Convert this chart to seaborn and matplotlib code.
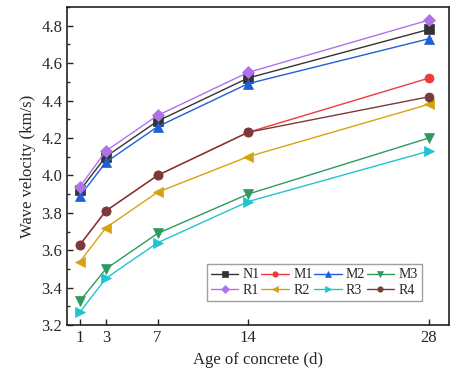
import matplotlib
matplotlib.use("Agg")
import matplotlib.pyplot as plt
import seaborn as sns
import pandas as pd
from matplotlib.ticker import MultipleLocator

days = [1, 3, 7, 14, 28]
series_names = ["N1", "M1", "M2", "M3", "R1", "R2", "R3", "R4"]
N1 = [3.92, 4.10, 4.29, 4.52, 4.78]
M1 = [3.63, 3.81, 4.00, 4.23, 4.52]
M2 = [3.89, 4.07, 4.26, 4.49, 4.73]
M3 = [3.33, 3.50, 3.69, 3.90, 4.20]
R1 = [3.94, 4.13, 4.32, 4.55, 4.83]
R2 = [3.54, 3.72, 3.91, 4.10, 4.38]
R3 = [3.27, 3.45, 3.64, 3.86, 4.13]
R4 = [3.63, 3.81, 4.00, 4.23, 4.42]
values = [N1, M1, M2, M3, R1, R2, R3, R4]

colors = ["#333333", "#f03a3a", "#1f5fd6", "#2e9a5e", "#b072e6", "#d4a410", "#20c4d0", "#7b3a3a"]
markers = ["s", "o", "^", "v", "D", "<", ">", "o"]

rows = []
for name, vals in zip(series_names, values):
    for d, v in zip(days, vals):
        rows.append({"Age": d, "Velocity": v, "Series": name})
df = pd.DataFrame(rows)

sns.set_style("ticks")
plt.rcParams["font.family"] = ["Liberation Serif", "DejaVu Serif"]

fig = plt.figure(figsize=(4.5, 3.83), dpi=100)
ax = fig.add_axes([0.149, 0.151, 0.849, 0.831])

sns.lineplot(data=df, x="Age", y="Velocity", hue="Series", style="Series",
             hue_order=series_names, style_order=series_names,
             palette=dict(zip(series_names, colors)),
             markers=dict(zip(series_names, markers)),
             dashes=False, markersize=6.5, linewidth=1.0,
             ax=ax, legend=True)

for ln in ax.get_lines():
    ln.set_markeredgecolor(ln.get_color())
    ln.set_markeredgewidth(0.5)

ax.set_xlim(0, 29.55)
ax.set_ylim(3.2, 4.9)
ax.set_xticks(days)
ax.yaxis.set_major_locator(MultipleLocator(0.2))
ax.yaxis.set_minor_locator(MultipleLocator(0.1))
ax.tick_params(direction="in", which="both", labelsize=12, width=1)
ax.tick_params(which="major", length=4)
ax.tick_params(which="minor", length=2.5)
for s in ax.spines.values():
    s.set_linewidth(1.2)
    s.set_color("#222222")
ax.set_xlabel("Age of concrete (d)", fontsize=12)
ax.set_ylabel("Wave velocity (km/s)", fontsize=12)

h, l = ax.get_legend_handles_labels()
hd = dict(zip(l, h))
for hh in h:
    hh.set_markeredgecolor(hh.get_color())
    hh.set_markeredgewidth(0.5)
order = ["N1", "R1", "M1", "R2", "M2", "R3", "M3", "R4"]
ax.legend([hd[k] for k in order], order, ncol=4, loc="lower right",
          bbox_to_anchor=(0.947, 0.055), markerscale=0.6,
          fontsize=10, handlelength=2.0, handletextpad=0.3, columnspacing=0.1,
          labelspacing=0.15, borderpad=0.3, frameon=True, fancybox=False,
          edgecolor="#888888")

fig.savefig("out.png", dpi=100)
